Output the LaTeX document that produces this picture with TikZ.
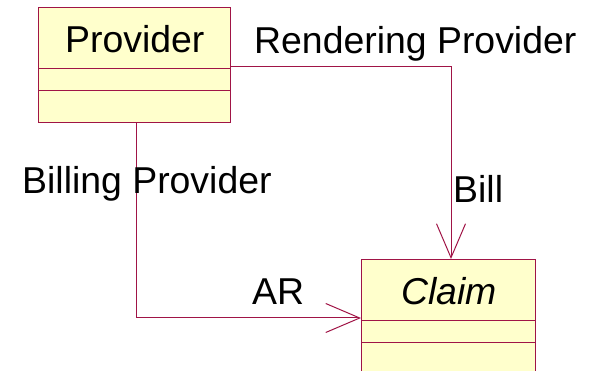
\documentclass[tikz,border=0pt]{standalone}
\usepackage{fontspec}
\setmainfont{Liberation Sans}
\usetikzlibrary{arrows.meta,calc}
\definecolor{umlline}{RGB}{160,20,70}
\definecolor{umlfill}{RGB}{255,255,204}
\tikzset{
  classbox/.style={draw=umlline, fill=umlfill, line width=1pt, inner sep=0pt, anchor=north west},
  lbl/.style={inner sep=0pt, anchor=base west, font=\fontsize{37.4}{44}\selectfont},
  assoc/.style={draw=umlline, line width=1pt,
    -{Straight Barb[length=34pt, width=29pt, line width=1pt]}},
}
\begin{document}
\begin{tikzpicture}[x=1pt, y=-1pt]
\useasboundingbox (0,0) rectangle (595,371);

% Provider class
\node[classbox, minimum width=192pt, minimum height=115pt] (provider) at (38,7) {};
\draw[umlline, line width=1pt] ($(provider.north west)+(0,62)$) -- ($(provider.north east)+(0,62)$);
\draw[umlline, line width=1pt] ($(provider.north west)+(0,84)$) -- ($(provider.north east)+(0,84)$);
\node[lbl] (providername) at (65,53) {Provider};

% Claim class (runs off the lower edge)
\node[classbox, minimum width=174pt, minimum height=130pt] (claim) at (361,259) {};
\draw[umlline, line width=1pt] ($(claim.north west)+(0,62)$) -- ($(claim.north east)+(0,62)$);
\draw[umlline, line width=1pt] ($(claim.north west)+(0,84)$) -- ($(claim.north east)+(0,84)$);
\node[lbl, font=\fontsize{37.4}{44}\selectfont\itshape] (claimname) at (401,305) {Claim};

% Associations
\coordinate (rendStart) at ($(provider.north east)+(0,60)$);
\coordinate (rendEnd) at ($(claim.north west)+(90,0)$);
\draw[assoc] (rendStart) -| (rendEnd);

\coordinate (billStart) at ($(provider.south west)+(98,0)$);
\coordinate (billEnd) at ($(claim.north west)+(0,59)$);
\draw[assoc] (billStart) |- (billEnd);

% Role names
\node[lbl] (rendering) at (254,54) {Rendering Provider};
\node[lbl] (billing) at (22,194) {Billing Provider};
\node[lbl] (bill) at (453,203) {Bill};
\node[lbl] (ar) at (252,305) {AR};
\end{tikzpicture}
\end{document}
